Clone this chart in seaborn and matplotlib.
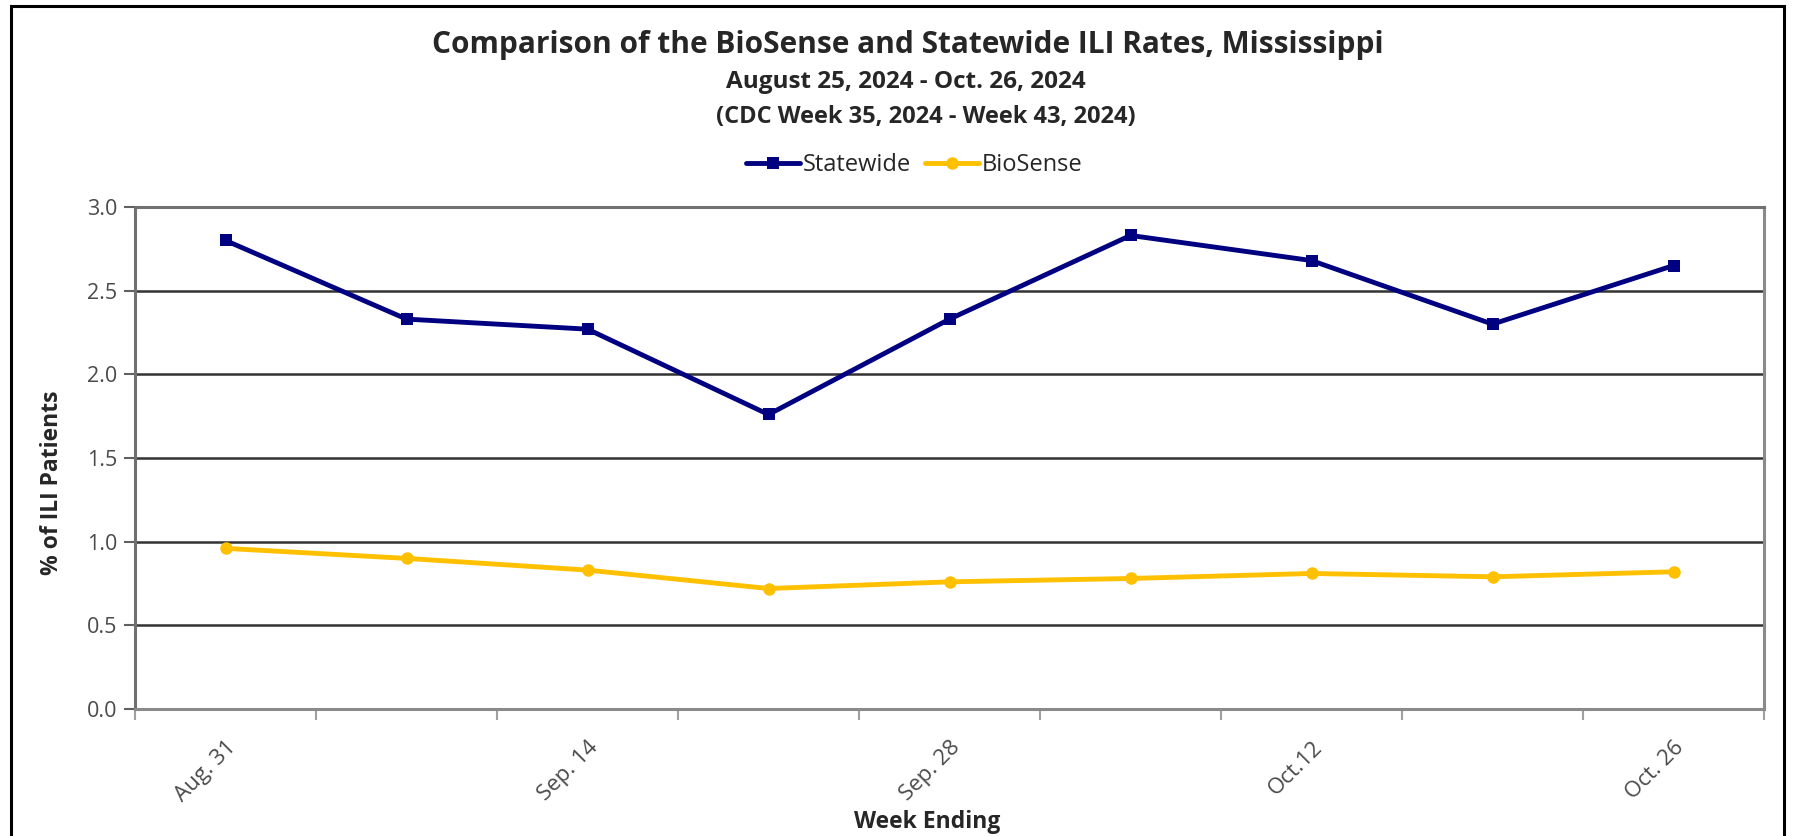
import matplotlib
matplotlib.use("Agg")
import matplotlib.pyplot as plt
import pandas as pd
import seaborn as sns
from matplotlib.patches import Rectangle

weeks = ["Aug. 31", "Sep. 7", "Sep. 14", "Sep. 21", "Sep. 28",
         "Oct. 5", "Oct.12", "Oct. 19", "Oct. 26"]
statewide = [2.80, 2.33, 2.27, 1.76, 2.33, 2.83, 2.68, 2.30, 2.65]
biosense = [0.96, 0.90, 0.83, 0.72, 0.76, 0.78, 0.81, 0.79, 0.82]
yticks = [0.0, 0.5, 1.0, 1.5, 2.0, 2.5, 3.0]

df = pd.DataFrame({
    "week": list(range(len(weeks))) * 2,
    "rate": statewide + biosense,
    "series": ["Statewide"] * len(weeks) + ["BioSense"] * len(weeks),
})

sns.set_theme(style="white")
plt.rcParams["font.family"] = ["Open Sans", "DejaVu Sans"]

fig = plt.figure(figsize=(17.96, 8.36), dpi=100)
ax = fig.add_axes([135 / 1796, 1 - 709 / 836, (1764 - 135) / 1796, (709 - 207) / 836])

sns.lineplot(data=df, x="week", y="rate", hue="series", style="series",
             palette={"Statewide": "#000080", "BioSense": "#FFC000"},
             markers={"Statewide": "s", "BioSense": "o"}, dashes=False,
             markersize=9, markeredgewidth=0, linewidth=3.5, ax=ax, legend=True)

ax.set_xlim(-0.5, len(weeks) - 0.5)
ax.set_ylim(0, 3.0)
ax.set_yticks(yticks)
ax.set_yticklabels([f"{v:.1f}" for v in yticks], fontsize=15.5, color="#4a4a4a")
for v in yticks[1:-1]:
    ax.axhline(v, color="#333333", linewidth=1.8, zorder=0)

# category boundaries as ticks, labels on every other week
ax.set_xticks([i - 0.5 for i in range(len(weeks) + 1)])
ax.set_xticklabels([])
ax.set_xticks(list(range(0, len(weeks), 2)), minor=True)
ax.set_xticklabels(weeks[::2], minor=True, rotation=45, ha="right",
                   rotation_mode="anchor", fontsize=16, color="#4a4a4a")
ax.tick_params(axis="x", which="major", length=8, width=1.5, color="#a0a0a0", direction="out", bottom=True)
ax.tick_params(axis="x", which="minor", length=0, pad=20)
ax.tick_params(axis="y", length=8, width=1.5, color="#606060", direction="out", left=True, pad=5)

for s in ax.spines.values():
    s.set_color("#8a8a8a")
    s.set_linewidth(2.2)
ax.spines["left"].set_color("#707070")
ax.spines["top"].set_color("#707070")

ax.set_xlabel("Week Ending", fontsize=16.5, fontweight="bold")
ax.set_ylabel("% of ILI Patients", fontsize=16.5, fontweight="bold")
ax.xaxis.set_label_coords(0.4865, -0.201)
ax.yaxis.set_label_coords(-0.0435, 0.45)

handles, labels = ax.get_legend_handles_labels()
ax.legend(handles, labels, loc="center", bbox_to_anchor=(914 / 1796, 1 - 165 / 836),
          bbox_transform=fig.transFigure, ncol=2, frameon=False, fontsize=17,
          handlelength=2.3, handletextpad=0.1, columnspacing=0.6)

fig.text(908 / 1796, 1 - 45 / 836, "Comparison of the BioSense and Statewide ILI Rates, Mississippi",
         ha="center", va="center", fontsize=21.5, fontweight="bold")
fig.text(906 / 1796, 1 - 82 / 836, "August 25, 2024 - Oct. 26, 2024",
         ha="center", va="center", fontsize=17.5, fontweight="bold")
fig.text(926 / 1796, 1 - 117 / 836, "(CDC Week 35, 2024 - Week 43, 2024)",
         ha="center", va="center", fontsize=17, fontweight="bold")

fig.patches.append(Rectangle((11 / 1796, -0.01), (1784 - 11) / 1796, 1 - 6 / 836 + 0.01,
                             transform=fig.transFigure, fill=False,
                             edgecolor="black", linewidth=2.2))

fig.savefig("out.png", dpi=100)
